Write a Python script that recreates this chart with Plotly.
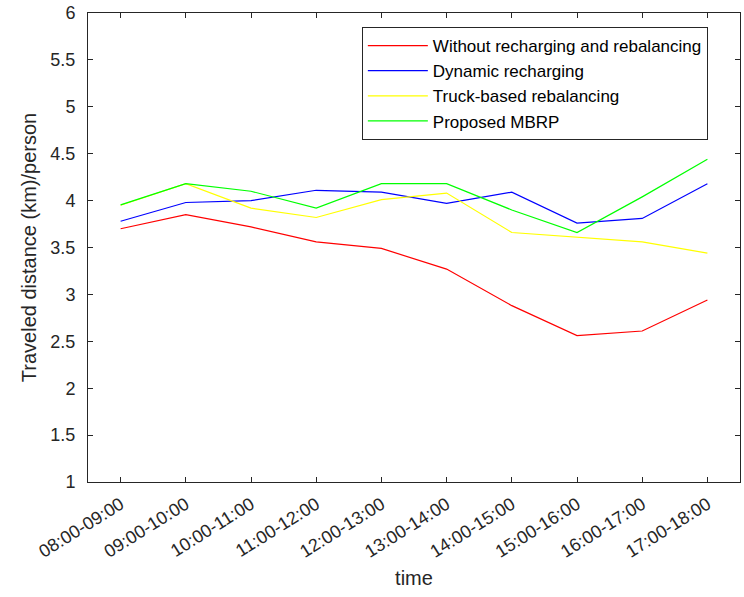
import plotly.graph_objects as go

categories = ["08:00-09:00", "09:00-10:00", "10:00-11:00", "11:00-12:00", "12:00-13:00",
              "13:00-14:00", "14:00-15:00", "15:00-16:00", "16:00-17:00", "17:00-18:00"]
without_rr = [3.70, 3.85, 3.72, 3.56, 3.49, 3.27, 2.88, 2.56, 2.61, 2.94]
dynamic_rech = [3.78, 3.98, 4.00, 4.11, 4.09, 3.97, 4.09, 3.76, 3.81, 4.18]
truck_rebal = [3.95, 4.18, 3.92, 3.82, 4.01, 4.08, 3.66, 3.61, 3.56, 3.44]
proposed_mbrp = [3.955, 4.18, 4.10, 3.92, 4.18, 4.18, 3.90, 3.66, 4.04, 4.44]
y_ticks = [1, 1.5, 2, 2.5, 3, 3.5, 4, 4.5, 5, 5.5, 6]
y_tick_text = ["1", "1.5", "2", "2.5", "3", "3.5", "4", "4.5", "5", "5.5", "6"]

x_idx = list(range(1, len(categories) + 1))

series = [
    ("Without recharging and rebalancing", without_rr, "#ff0000"),
    ("Dynamic recharging", dynamic_rech, "#0000ff"),
    ("Truck-based rebalancing", truck_rebal, "#ffff00"),
    ("Proposed MBRP", proposed_mbrp, "#00ff00"),
]

fig = go.Figure()
for name, vals, col in series:
    fig.add_trace(go.Scatter(x=x_idx, y=vals, mode="lines", name=name,
                             line=dict(color=col, width=1.2)))

axis_col = "#262626"
fig.update_layout(
    width=744, height=597,
    margin=dict(l=88, r=4, t=13, b=115),
    paper_bgcolor="white", plot_bgcolor="white",
    font=dict(family="Liberation Sans, Arial, sans-serif", size=18, color=axis_col),
    showlegend=True,
    legend=dict(x=0.42, y=0.97, xanchor="left", yanchor="top",
                bgcolor="white", bordercolor=axis_col, borderwidth=1,
                font=dict(size=17, color="black"), tracegroupgap=0,
                itemwidth=60),
    xaxis=dict(range=[0.5, 10.5], tickmode="array", tickvals=x_idx, ticktext=categories,
               tickangle=-32, ticks="inside", ticklen=5, tickcolor=axis_col,
               showline=True, linecolor=axis_col, linewidth=1, mirror="ticks",
               showgrid=False, zeroline=False, automargin=False,
               ticklabelstandoff=4,
               tickfont=dict(size=18, color=axis_col),
               title=dict(text="time", font=dict(size=20, color=axis_col), standoff=10)),
    yaxis=dict(range=[1, 6], tickmode="array", tickvals=y_ticks, ticktext=y_tick_text,
               ticks="inside", ticklen=5, tickcolor=axis_col,
               showline=True, linecolor=axis_col, linewidth=1, mirror="ticks",
               showgrid=False, zeroline=False, automargin=False,
               ticklabelstandoff=8, ticklabeloverflow="allow",
               tickfont=dict(size=18, color=axis_col),
               title=dict(text="Traveled distance (km)/person", font=dict(size=20, color=axis_col), standoff=8)),
)

fig.write_html("out.html", config={"displayModeBar": False},
               post_script="document.body.style.margin='0';")
